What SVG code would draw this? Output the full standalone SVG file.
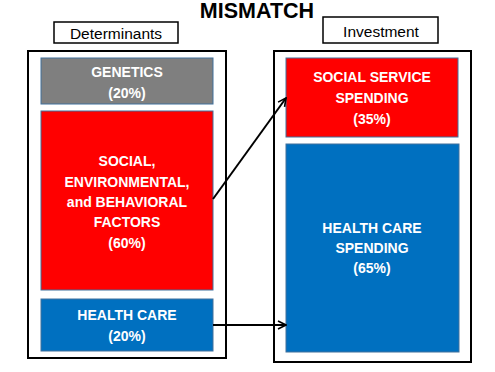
<svg xmlns="http://www.w3.org/2000/svg" width="495" height="372" viewBox="0 0 495 372">
<defs>
<style>
.outer{fill:#fff;stroke:#000;stroke-width:2}
.lbl{fill:#fff;stroke:#000;stroke-width:1.5}
.box{stroke:#41719c;stroke-width:1}
.t{font-family:"Liberation Sans",Arial,sans-serif;font-weight:bold;font-size:14px;fill:#fff;text-anchor:middle}
.h{font-family:"Liberation Sans",Arial,sans-serif;font-size:15.5px;fill:#000;text-anchor:middle}
.conn{stroke:#000;stroke-width:2;fill:none;marker-end:url(#arr)}
</style>
<marker id="arr" viewBox="0 0 10 10" refX="9" refY="5" markerWidth="5" markerHeight="5" orient="auto" markerUnits="strokeWidth">
<path d="M1,1 L9,5 L1,9" fill="none" stroke="#000" stroke-width="1.6"/>
</marker>
</defs>
<rect width="495" height="372" fill="#fff"/>
<text x="257" y="18" font-family="Liberation Sans,Arial,sans-serif" font-weight="bold" font-size="21.5" text-anchor="middle" fill="#000">MISMATCH</text>

<g id="determinants-label">
<rect class="lbl" x="54" y="22" width="124" height="21"/>
<text class="h" x="116" y="38.5">Determinants</text>
</g>
<g id="investment-label">
<rect class="lbl" x="323" y="17" width="115" height="26"/>
<text class="h" x="381" y="36.5">Investment</text>
</g>

<g id="determinants">
<rect class="outer" x="28" y="51" width="198" height="307"/>
</g>
<g id="investment">
<rect class="outer" x="274" y="51" width="197" height="311"/>
</g>

<g id="genetics">
<rect class="box" x="41" y="58" width="172" height="46" fill="#7f7f7f"/>
<text class="t" x="127" y="77">GENETICS</text>
<text class="t" x="127" y="98">(20%)</text>
</g>
<g id="social-factors">
<rect class="box" x="41" y="111" width="172" height="179" fill="#ff0000"/>
<text class="t" x="127" y="166">SOCIAL,</text>
<text class="t" x="127" y="187">ENVIRONMENTAL,</text>
<text class="t" x="127" y="207">and BEHAVIORAL</text>
<text class="t" x="127" y="227">FACTORS</text>
<text class="t" x="127" y="248">(60%)</text>
</g>
<g id="health-care">
<rect class="box" x="41" y="299" width="172" height="52" fill="#0070c0"/>
<text class="t" x="127" y="320">HEALTH CARE</text>
<text class="t" x="127" y="341">(20%)</text>
</g>
<g id="social-service-spending">
<rect class="box" x="286" y="58" width="172" height="79" fill="#ff0000"/>
<text class="t" x="372" y="82">SOCIAL SERVICE</text>
<text class="t" x="372" y="103">SPENDING</text>
<text class="t" x="372" y="124">(35%)</text>
</g>
<g id="health-care-spending">
<rect class="box" x="286" y="144" width="173" height="208" fill="#0070c0"/>
<text class="t" x="372" y="233">HEALTH CARE</text>
<text class="t" x="372" y="253">SPENDING</text>
<text class="t" x="372" y="273">(65%)</text>
</g>

<g id="connectors">
<line class="conn" x1="213" y1="199" x2="286" y2="98"/>
<line class="conn" x1="213" y1="325" x2="286" y2="325"/>
</g>
</svg>
